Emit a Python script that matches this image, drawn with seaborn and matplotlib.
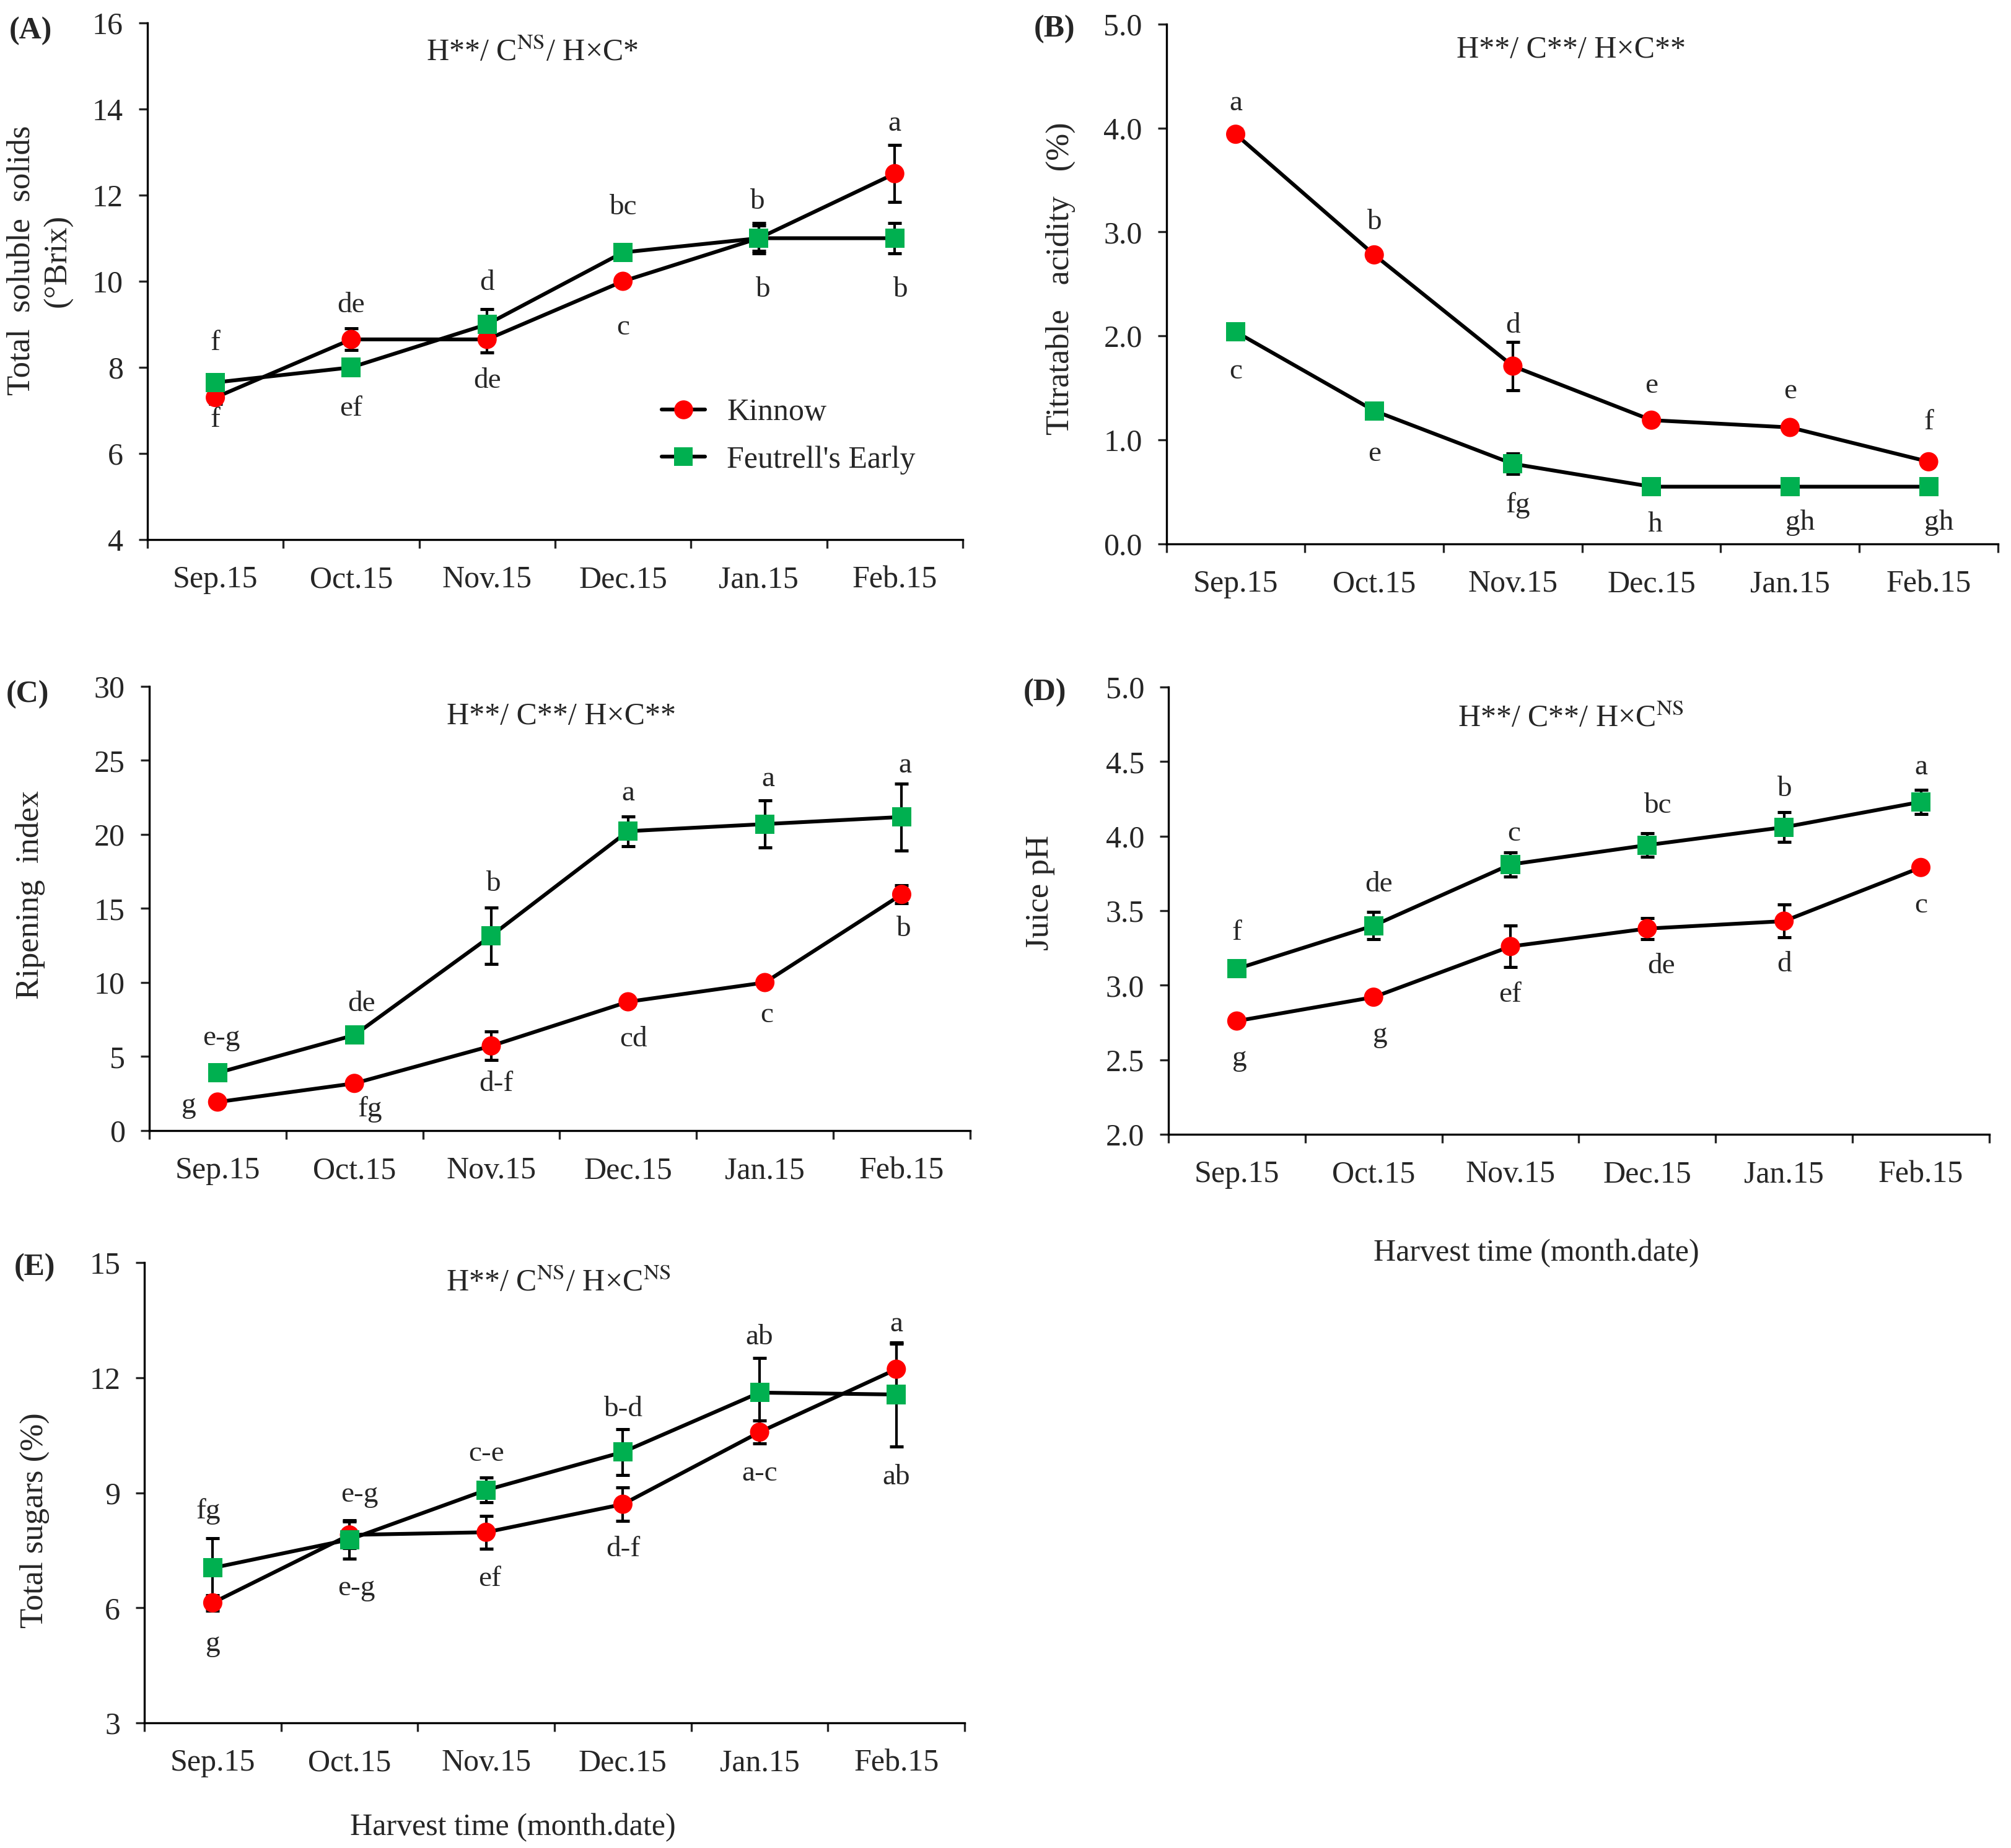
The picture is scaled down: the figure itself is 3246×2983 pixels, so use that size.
import numpy as np
import pandas as pd
import matplotlib.pyplot as plt
import seaborn as sns
from matplotlib.lines import Line2D

months = ['Sep.15', 'Oct.15', 'Nov.15', 'Dec.15', 'Jan.15', 'Feb.15']
cultivars = ['Kinnow', "Feutrell's Early"]

# (A) total soluble solids (°Brix)
tss_kinnow = [7.3, 8.65, 8.65, 10.0, 11.0, 12.5]
tss_kinnow_se = [0.15, 0.25, 0.3, 0.1, 0.3, 0.66]
tss_feut = [7.65, 8.0, 9.0, 10.67, 11.0, 11.0]
tss_feut_se = [0.1, 0.1, 0.35, 0.1, 0.35, 0.35]
tss_kinnow_let = ['f', 'de', 'de', 'c', 'b', 'a']
tss_feut_let = ['f', 'ef', 'd', 'bc', 'b', 'b']

# (B) titratable acidity (%)
ta_kinnow = [3.94, 2.78, 1.71, 1.19, 1.12, 0.79]
ta_kinnow_se = [0.05, 0.05, 0.23, 0.04, 0.04, 0.04]
ta_feut = [2.04, 1.28, 0.77, 0.55, 0.55, 0.55]
ta_feut_se = [0.05, 0.05, 0.1, 0.03, 0.03, 0.03]
ta_kinnow_let = ['a', 'b', 'd', 'e', 'e', 'f']
ta_feut_let = ['c', 'e', 'fg', 'h', 'gh', 'gh']

# (C) ripening index
ri_kinnow = [1.93, 3.19, 5.72, 8.7, 10.0, 15.95]
ri_kinnow_se = [0.2, 0.2, 0.97, 0.3, 0.3, 0.6]
ri_feut = [3.9, 6.45, 13.16, 20.22, 20.7, 21.18]
ri_feut_se = [0.3, 0.3, 1.9, 1.0, 1.6, 2.25]
ri_kinnow_let = ['g', 'fg', 'd-f', 'cd', 'c', 'b']
ri_feut_let = ['e-g', 'de', 'b', 'a', 'a', 'a']

# (D) juice pH
ph_kinnow = [2.76, 2.92, 3.26, 3.38, 3.43, 3.79]
ph_kinnow_se = [0.03, 0.03, 0.14, 0.07, 0.11, 0.03]
ph_feut = [3.11, 3.40, 3.81, 3.94, 4.06, 4.23]
ph_feut_se = [0.03, 0.09, 0.08, 0.08, 0.1, 0.08]
ph_kinnow_let = ['g', 'g', 'ef', 'de', 'd', 'c']
ph_feut_let = ['f', 'de', 'c', 'bc', 'b', 'a']

# (E) total sugars (%)
ts_kinnow = [6.13, 7.9, 7.97, 8.7, 10.58, 12.22]
ts_kinnow_se = [0.2, 0.35, 0.43, 0.43, 0.3, 0.67]
ts_feut = [7.04, 7.78, 9.07, 10.06, 11.61, 11.56]
ts_feut_se = [0.77, 0.5, 0.32, 0.6, 0.9, 1.36]
ts_kinnow_let = ['g', 'e-g', 'ef', 'd-f', 'a-c', 'a']
ts_feut_let = ['fg', 'e-g', 'c-e', 'b-d', 'ab', 'ab']

RED = '#ff0000'
GREEN = '#00b050'
FS = 18

sns.set_style('ticks')
plt.rcParams['font.family'] = ['Liberation Serif', 'DejaVu Serif']
plt.rcParams['mathtext.fontset'] = 'stix'

fig = plt.figure(figsize=(16.23, 14.915), dpi=200)


def draw_panel(rect, kin, kin_se, feu, feu_se, kin_let, feu_let, kin_off, feu_off,
               ylim, yticks, fmt, ylabel, ylab_xy, title, title_xy):
    ax = fig.add_axes(rect)
    x = np.arange(len(months)) + 0.5
    df = pd.DataFrame({
        'pos': np.tile(x, 2),
        'value': kin + feu,
        'cultivar': [cultivars[0]] * 6 + [cultivars[1]] * 6,
    })
    sns.lineplot(data=df, x='pos', y='value', hue='cultivar',
                 palette={cultivars[0]: 'black', cultivars[1]: 'black'},
                 linewidth=2.2, legend=False, ax=ax, zorder=2)
    ax.errorbar(x, kin, yerr=kin_se, fmt='none', ecolor='black',
                elinewidth=1.5, capsize=4, capthick=1.8, zorder=3)
    ax.errorbar(x, feu, yerr=feu_se, fmt='none', ecolor='black',
                elinewidth=1.5, capsize=4, capthick=1.8, zorder=3)
    sns.scatterplot(data=df, x='pos', y='value', hue='cultivar', style='cultivar',
                    markers={cultivars[0]: 'o', cultivars[1]: 's'},
                    palette={cultivars[0]: RED, cultivars[1]: GREEN},
                    s=125, linewidth=0, legend=False, ax=ax, zorder=4)

    for xi, yi, lab, off in zip(x, kin, kin_let, kin_off):
        ax.annotate(lab, (xi, yi), xytext=off, textcoords='offset points',
                    ha='center', va='center', fontsize=FS - 1)
    for xi, yi, lab, off in zip(x, feu, feu_let, feu_off):
        ax.annotate(lab, (xi, yi), xytext=off, textcoords='offset points',
                    ha='center', va='center', fontsize=FS - 1)

    ax.set_xlim(0, 6)
    ax.set_ylim(*ylim)
    ax.set_yticks(yticks)
    ax.set_yticklabels([fmt.format(v) for v in yticks], fontsize=FS)
    ax.set_xticks(range(7))
    ax.set_xticklabels([])
    ax.set_xticks(x, minor=True)
    ax.set_xticklabels(months, minor=True, fontsize=FS)
    ax.tick_params(axis='x', which='major', direction='out', length=5, width=1.2)
    ax.tick_params(axis='x', which='minor', length=0, pad=15)
    ax.tick_params(axis='y', direction='out', length=5, width=1.2, pad=9)
    ax.set_xlabel('')
    ax.set_ylabel(ylabel, fontsize=FS + 1, linespacing=1.3)
    ax.yaxis.set_label_coords(*ylab_xy)
    ax.yaxis.label.set_va('center')
    for sp in ['left', 'bottom']:
        ax.spines[sp].set_linewidth(1.2)
        ax.spines[sp].set_color('black')
    sns.despine(ax=ax)
    ax.text(title_xy[0], title_xy[1], title, transform=ax.transAxes,
            ha='center', va='center', fontsize=FS)
    return ax


axA = draw_panel([0.0733, 0.708, 0.4054, 0.2796],
                 tss_kinnow, tss_kinnow_se, tss_feut, tss_feut_se,
                 tss_kinnow_let, tss_feut_let,
                 [(0, -13), (0, 20), (0, -24), (0, -27), (2, -30), (0, 29)],
                 [(0, 23), (0, -24), (0, 24), (0, 26), (-1, 21), (3, -30)],
                 (4, 16), [4, 6, 8, 10, 12, 14, 16], '{:g}',
                 'Total  soluble  solids\n(°Brix)', (-0.132, 0.54),
                 r'H**/ C$^{\rm NS}$/ H×C*', (0.472, 0.942))

axB = draw_panel([0.580, 0.7057, 0.4135, 0.2813],
                 ta_kinnow, ta_kinnow_se, ta_feut, ta_feut_se,
                 ta_kinnow_let, ta_feut_let,
                 [(0, 18), (0, 19), (0, 23.5), (0, 20), (0, 21), (0, 23)],
                 [(0, -23), (0, -25), (3, -24), (2, -22), (6, -21), (6, -21)],
                 (0, 5), [0, 1, 2, 3, 4, 5], '{:.1f}',
                 'Titratable   acidity   (%)', (-0.127, 0.51),
                 'H**/ C**/ H×C**', (0.487, 0.95))

axC = draw_panel([0.0742, 0.3882, 0.4082, 0.2404],
                 ri_kinnow, ri_kinnow_se, ri_feut, ri_feut_se,
                 ri_kinnow_let, ri_feut_let,
                 [(-16.6, -2), (9, -15), (3, -22), (3, -22), (1, -19), (1, -20)],
                 [(2, 20), (4, 18), (1, 30), (0, 22), (2, 26), (2, 30)],
                 (0, 30), [0, 5, 10, 15, 20, 25, 30], '{:g}',
                 'Ripening  index', (-0.145, 0.53),
                 'H**/ C**/ H×C**', (0.502, 0.932))

axD = draw_panel([0.581, 0.3862, 0.4082, 0.242],
                 ph_kinnow, ph_kinnow_se, ph_feut, ph_feut_se,
                 ph_kinnow_let, ph_feut_let,
                 [(1.5, -22), (4, -22), (0, -28), (8, -22), (0, -25), (0, -22)],
                 [(0, 21), (3, 24), (2, 18), (6, 23), (0, 22), (0, 20)],
                 (2, 5), [2.0, 2.5, 3.0, 3.5, 4.0, 4.5, 5.0], '{:.1f}',
                 'Juice pH', (-0.156, 0.54),
                 r'H**/ C**/ H×C$^{\rm NS}$', (0.49, 0.928))

axE = draw_panel([0.0718, 0.0677, 0.4079, 0.2491],
                 ts_kinnow, ts_kinnow_se, ts_feut, ts_feut_se,
                 ts_kinnow_let, ts_feut_let,
                 [(0, -24), (4, -31), (2, -27), (0, -26), (0, -24), (0, 26)],
                 [(-2.6, 33), (6, 26), (0, 21), (0, 25), (0, 32), (0, -48)],
                 (3, 15), [3, 6, 9, 12, 15], '{:g}',
                 'Total sugars (%)', (-0.134, 0.44),
                 r'H**/ C$^{\rm NS}$/ H×C$^{\rm NS}$', (0.505, 0.955))

# legend in panel A: black line through coloured marker
handles = [
    Line2D([], [], color='black', lw=2.2, marker='o', markersize=11,
           markerfacecolor=RED, markeredgewidth=0),
    Line2D([], [], color='black', lw=2.2, marker='s', markersize=11,
           markerfacecolor=GREEN, markeredgewidth=0),
]
axA.legend(handles, cultivars, loc='center left', bbox_to_anchor=(0.631, 0.2),
           frameon=False, fontsize=FS, handlelength=1.4, handletextpad=0.7,
           labelspacing=0.6, borderpad=0, borderaxespad=0)

# panel letters
for lab, (px, py) in zip(['(A)', '(B)', '(C)', '(D)', '(E)'],
                         [(0.0046, 0.991), (0.514, 0.992), (0.003, 0.632),
                          (0.509, 0.633), (0.007, 0.322)]):
    fig.text(px, py, lab, ha='left', va='top', fontsize=FS, fontweight='bold')

fig.text(0.764, 0.322, 'Harvest time (month.date)', ha='center', va='center', fontsize=FS)
fig.text(0.255, 0.011, 'Harvest time (month.date)', ha='center', va='center', fontsize=FS)

fig.savefig('out.png', dpi=200)
